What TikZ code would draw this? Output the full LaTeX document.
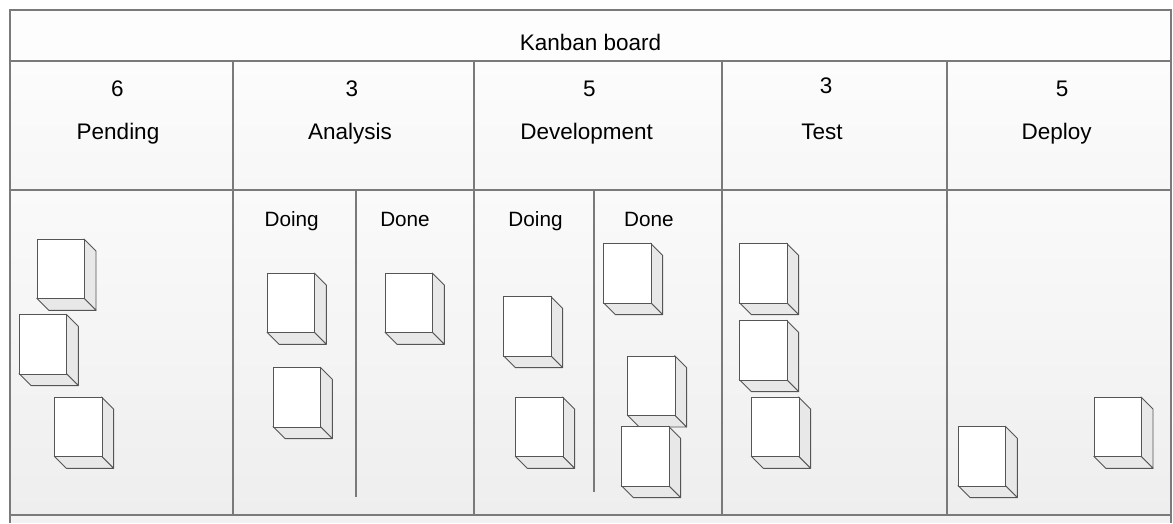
\documentclass[tikz,border=0pt]{standalone}
\usepackage{fontspec}
\setmainfont{Liberation Sans}

\definecolor{gridline}{HTML}{7A7A7A}
\definecolor{cardline}{HTML}{555555}
\definecolor{cardside}{HTML}{E8E8E8}
\definecolor{titlefill}{HTML}{FDFDFD}
\definecolor{headtop}{HTML}{FCFCFC}
\definecolor{headbot}{HTML}{F7F7F7}
\definecolor{bodytop}{HTML}{FAFAFA}
\definecolor{bodybot}{HTML}{EEEEEE}
\definecolor{stripfill}{HTML}{F2F2F2}

\tikzset{
  cell/.style={draw=gridline, line width=1.2pt, inner sep=0pt, outer sep=0pt, anchor=north west},
  titlecell/.style={cell, fill=titlefill},
  headcell/.style={cell, top color=headtop, bottom color=headbot},
  bodycell/.style={cell, top color=bodytop, bottom color=bodybot},
  headtext/.style={anchor=base, inner sep=0pt, font=\fontsize{22.5}{27}\selectfont},
  subtext/.style={anchor=base, inner sep=0pt, font=\fontsize{20.7}{25}\selectfont},
  sublane/.style={draw=gridline, line width=1.2pt},
  cardface/.style={draw=cardline, line width=0.9pt, fill=white, inner sep=0pt,
    minimum width=47.3pt, minimum height=59.3pt, anchor=north west},
  cardedge/.style={draw=cardline, line width=0.9pt, fill=cardside, line join=round},
  card/.pic={
    \path[cardedge] (47.3,0) -- (59.3,12) -- (59.3,71.3) -- (47.3,59.3) -- cycle;
    \path[cardedge] (0,59.3) -- (12,71.3) -- (59.3,71.3) -- (47.3,59.3) -- cycle;
    \node[cardface] (-face) at (0,0) {};
  }
}

\begin{document}
\begin{tikzpicture}[x=1pt, y=-1pt]
\useasboundingbox (0,0) rectangle (1173,523);

% strip of the next row below the board
\fill[stripfill] (10,515) rectangle (1171,523);
\draw[gridline, line width=1.2pt] (10,515) -- (10,523) (1171,515) -- (1171,523);

% title row
\node[titlecell, minimum width=1161pt, minimum height=51pt] (title) at (10,10) {};
\node[headtext] (titletext) at (590.5,50) {Kanban board};

% column headers and bodies
\foreach \name/\xa/\xb in {pend/10/233, ana/233/474, dev/474/722, test/722/947, dep/947/1171}{
  \pgfmathsetmacro{\w}{\xb-\xa}
  \node[headcell, minimum width=\w pt, minimum height=129pt] (\name-head) at (\xa,61) {};
  \node[bodycell, minimum width=\w pt, minimum height=325pt] (\name-body) at (\xa,190) {};
}

% WIP limits and column names
\node[headtext] (pend-wip) at (117.5,96.7) {6};
\node[headtext] (pend-name) at (118,139.5) {Pending};
\node[headtext] (ana-wip) at (352,96.7) {3};
\node[headtext] (ana-name) at (350,139.5) {Analysis};
\node[headtext] (dev-wip) at (589.5,96.7) {5};
\node[headtext] (dev-name) at (586.7,139.5) {Development};
\node[headtext] (test-wip) at (826,93.3) {3};
\node[headtext] (test-name) at (822,139.5) {Test};
\node[headtext] (dep-wip) at (1062,96.7) {5};
\node[headtext] (dep-name) at (1056.7,139.5) {Deploy};

% Doing / Done lanes
\draw[sublane] (356,190) -- (356,497);
\draw[sublane] (594,190) -- (594,492);
\node[subtext] (ana-doing) at (291.7,226.7) {Doing};
\node[subtext] (ana-done) at (405,226.7) {Done};
\node[subtext] (dev-doing) at (535.5,226.7) {Doing};
\node[subtext] (dev-done) at (648.8,226.7) {Done};

% cards
\pic (c1) at (36.7,239) {card};
\pic (c2) at (19,314.3) {card};
\pic (c3) at (54.3,397) {card};
\pic (c4) at (267,273) {card};
\pic (c5) at (273,367.3) {card};
\pic (c6) at (385,273) {card};
\pic (c7) at (503.3,296.3) {card};
\pic (c8) at (515.3,397) {card};
\pic (c9) at (603.3,243.3) {card};
\pic (c10) at (627.3,355.7) {card};
\pic (c11) at (621.3,426.3) {card};
\pic (c12) at (739.3,243.3) {card};
\pic (c13) at (739.3,320.3) {card};
\pic (c14) at (751.3,397) {card};
\pic (c15) at (958,426.3) {card};
\pic (c16) at (1093.7,397) {card};
\end{tikzpicture}
\end{document}
